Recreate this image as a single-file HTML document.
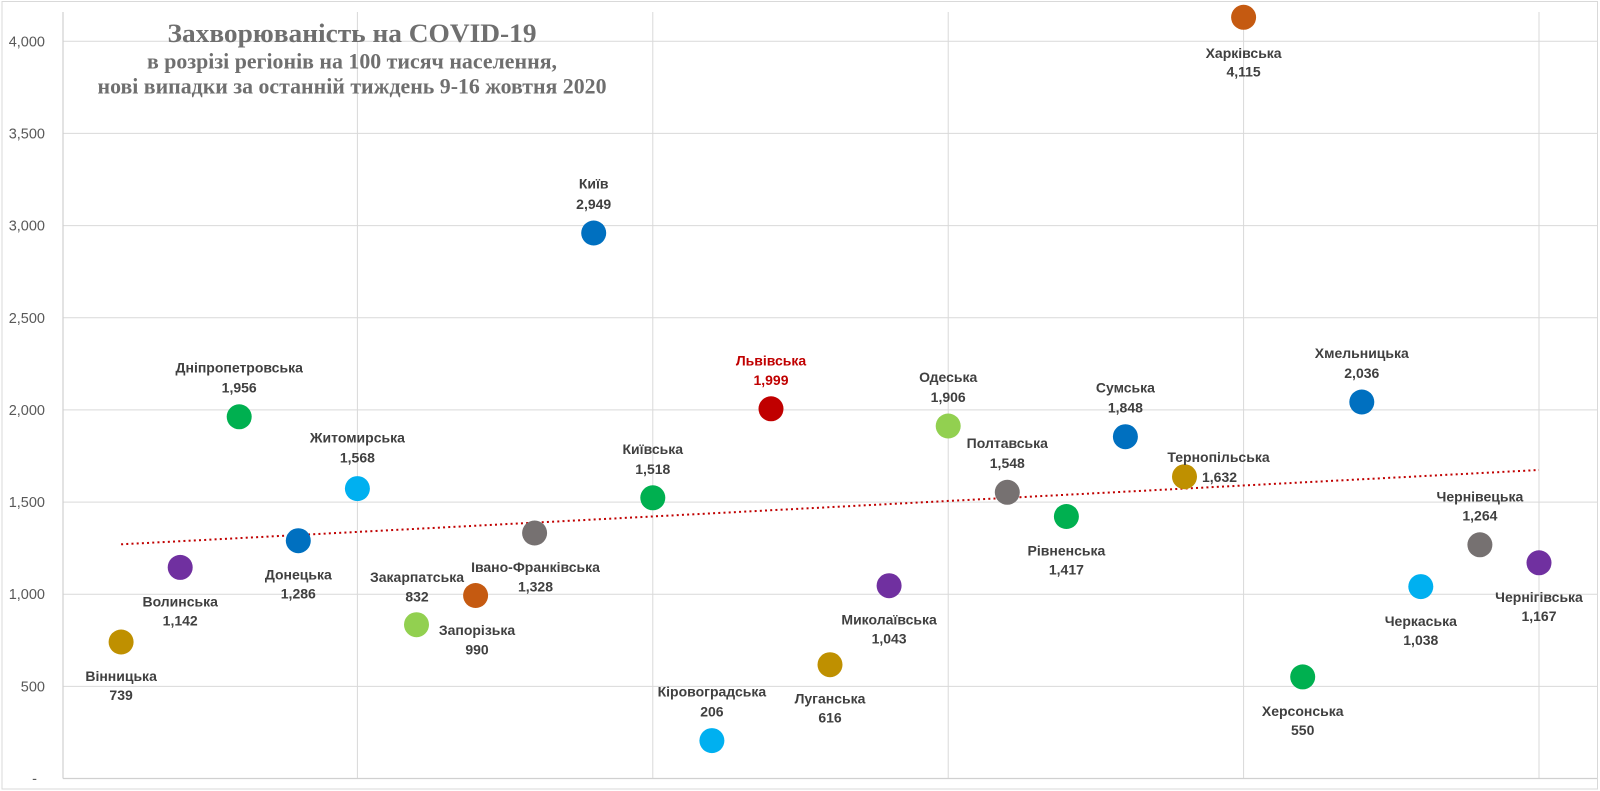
<!DOCTYPE html>
<html>
<head>
<meta charset="utf-8">
<style>
  html, body { margin: 0; padding: 0; background: #ffffff; }
  body { width: 1600px; height: 791px; overflow: hidden; }
  svg { display: block; }
  .yl { font-family: "Liberation Sans", "DejaVu Sans", sans-serif; font-size: 14.5px; fill: #595959; }
  .lb { font-family: "Liberation Sans", "DejaVu Sans", sans-serif; font-size: 14px; font-weight: bold; fill: #404040; }
  .red { fill: #C00000; }
  .tt { font-family: "Liberation Serif", "DejaVu Serif", serif; font-weight: bold; fill: #6f6f6f; }
</style>
</head>
<body>
<svg width="1600" height="791" viewBox="0 0 1600 791" xmlns="http://www.w3.org/2000/svg">
  <rect x="0" y="0" width="1600" height="791" fill="#ffffff"/>
  <!-- outer border -->
  <rect x="2" y="1.5" width="1595.5" height="787.5" fill="none" stroke="#d9d9d9" stroke-width="1"/>

  <!-- horizontal gridlines -->
  <g stroke="#d9d9d9" stroke-width="1">
    <line x1="63" y1="41.3" x2="1597" y2="41.3"/>
    <line x1="63" y1="133.4" x2="1597" y2="133.4"/>
    <line x1="63" y1="225.6" x2="1597" y2="225.6"/>
    <line x1="63" y1="317.8" x2="1597" y2="317.8"/>
    <line x1="63" y1="409.9" x2="1597" y2="409.9"/>
    <line x1="63" y1="502.1" x2="1597" y2="502.1"/>
    <line x1="63" y1="594.2" x2="1597" y2="594.2"/>
    <line x1="63" y1="686.4" x2="1597" y2="686.4"/>
    <!-- vertical gridlines -->
    <line x1="357.4" y1="12" x2="357.4" y2="778.5"/>
    <line x1="652.8" y1="12" x2="652.8" y2="778.5"/>
    <line x1="948.2" y1="12" x2="948.2" y2="778.5"/>
    <line x1="1243.6" y1="12" x2="1243.6" y2="778.5"/>
    <line x1="1539" y1="12" x2="1539" y2="778.5"/>
  </g>
  <!-- axes -->
  <g stroke="#d0d0d0" stroke-width="1.2">
    <line x1="63" y1="12" x2="63" y2="778.5"/>
    <line x1="63" y1="778.5" x2="1597" y2="778.5"/>
  </g>

  <!-- y-axis labels -->
  <g class="yl" text-anchor="end">
    <text x="45" y="46.3">4,000</text>
    <text x="45" y="138.4">3,500</text>
    <text x="45" y="230.6">3,000</text>
    <text x="45" y="322.8">2,500</text>
    <text x="45" y="414.9">2,000</text>
    <text x="45" y="507.1">1,500</text>
    <text x="45" y="599.2">1,000</text>
    <text x="45" y="691.4">500</text>
    <text x="37" y="783.5">-</text>
  </g>

  <!-- title -->
  <text class="tt" x="352" y="42" font-size="26" text-anchor="middle" textLength="369" lengthAdjust="spacingAndGlyphs">Захворюваність на COVID-19</text>
  <text class="tt" x="352" y="68.3" font-size="22" text-anchor="middle" textLength="410" lengthAdjust="spacingAndGlyphs">в розрізі регіонів на 100 тисяч населення,</text>
  <text class="tt" x="352" y="93.3" font-size="22" text-anchor="middle" textLength="509" lengthAdjust="spacingAndGlyphs">нові випадки за останній тиждень 9-16 жовтня 2020</text>

  <!-- trendline -->
  <line x1="121.1" y1="544.3" x2="1539" y2="470" stroke="#C00000" stroke-width="2" stroke-dasharray="2 3.2"/>

  <!-- points -->
  <g>
    <circle cx="121.1" cy="642.0" r="12.5" fill="#BF9000"/>
    <circle cx="180.2" cy="567.4" r="12.5" fill="#7030A0"/>
    <circle cx="239.2" cy="416.8" r="12.5" fill="#00B050"/>
    <circle cx="298.3" cy="540.7" r="12.5" fill="#0070C0"/>
    <circle cx="357.4" cy="488.6" r="12.5" fill="#00B0F0"/>
    <circle cx="416.5" cy="624.7" r="12.5" fill="#92D050"/>
    <circle cx="475.6" cy="595.5" r="12.5" fill="#C55A11"/>
    <circle cx="534.6" cy="533.0" r="12.5" fill="#767171"/>
    <circle cx="593.7" cy="233.0" r="12.5" fill="#0070C0"/>
    <circle cx="652.8" cy="497.8" r="12.5" fill="#00B050"/>
    <circle cx="711.9" cy="740.6" r="12.5" fill="#00B0F0"/>
    <circle cx="771.0" cy="408.8" r="12.5" fill="#C00000"/>
    <circle cx="830.0" cy="664.7" r="12.5" fill="#BF9000"/>
    <circle cx="889.1" cy="585.7" r="12.5" fill="#7030A0"/>
    <circle cx="948.2" cy="426.0" r="12.5" fill="#92D050"/>
    <circle cx="1007.3" cy="492.3" r="12.5" fill="#767171"/>
    <circle cx="1066.4" cy="516.5" r="12.5" fill="#00B050"/>
    <circle cx="1125.4" cy="436.7" r="12.5" fill="#0070C0"/>
    <circle cx="1184.5" cy="476.7" r="12.5" fill="#BF9000"/>
    <circle cx="1243.6" cy="17.3" r="12.5" fill="#C55A11"/>
    <circle cx="1302.7" cy="676.9" r="12.5" fill="#00B050"/>
    <circle cx="1361.8" cy="402.0" r="12.5" fill="#0070C0"/>
    <circle cx="1420.8" cy="586.6" r="12.5" fill="#00B0F0"/>
    <circle cx="1479.9" cy="544.8" r="12.5" fill="#767171"/>
    <circle cx="1539.0" cy="562.8" r="12.5" fill="#7030A0"/>
  </g>

  <!-- data labels -->
  <g class="lb" text-anchor="middle">
    <text x="121.1" y="681">Вінницька</text><text x="121.1" y="700">739</text>
    <text x="180.2" y="606.4">Волинська</text><text x="180.2" y="625.4">1,142</text>
    <text x="239.2" y="372.5">Дніпропетровська</text><text x="239.2" y="392.5">1,956</text>
    <text x="298.3" y="579.7">Донецька</text><text x="298.3" y="598.7">1,286</text>
    <text x="357.4" y="442.5">Житомирська</text><text x="357.4" y="462.5">1,568</text>
    <text x="417" y="582">Закарпатська</text><text x="417" y="601.5">832</text>
    <text x="477" y="634.8">Запорізька</text><text x="477" y="654.5">990</text>
    <text x="535.5" y="572.2">Івано-Франківська</text><text x="535.5" y="591.5">1,328</text>
    <text x="593.7" y="188.3">Київ</text><text x="593.7" y="209">2,949</text>
    <text x="652.8" y="453.8">Київська</text><text x="652.8" y="473.8">1,518</text>
    <text x="711.9" y="696.6">Кіровоградська</text><text x="711.9" y="716.6">206</text>
    <text class="lb red" x="771.0" y="365.3">Львівська</text><text class="lb red" x="771.0" y="385">1,999</text>
    <text x="830.0" y="703.7">Луганська</text><text x="830.0" y="722.7">616</text>
    <text x="889.1" y="624.7">Миколаївська</text><text x="889.1" y="643.7">1,043</text>
    <text x="948.2" y="382">Одеська</text><text x="948.2" y="402">1,906</text>
    <text x="1007.3" y="448">Полтавська</text><text x="1007.3" y="468">1,548</text>
    <text x="1066.4" y="555.5">Рівненська</text><text x="1066.4" y="574.5">1,417</text>
    <text x="1125.4" y="392.7">Сумська</text><text x="1125.4" y="412.7">1,848</text>
    <text x="1218.5" y="462">Тернопільська</text><text x="1202" y="482" text-anchor="start">1,632</text>
    <text x="1243.6" y="58">Харківська</text><text x="1243.6" y="76.5">4,115</text>
    <text x="1302.7" y="715.9">Херсонська</text><text x="1302.7" y="734.9">550</text>
    <text x="1361.8" y="358">Хмельницька</text><text x="1361.8" y="378">2,036</text>
    <text x="1420.8" y="625.8">Черкаська</text><text x="1420.8" y="645">1,038</text>
    <text x="1479.9" y="501.5">Чернівецька</text><text x="1479.9" y="520.5">1,264</text>
    <text x="1539.0" y="601.8">Чернігівська</text><text x="1539.0" y="621">1,167</text>
  </g>
</svg>
</body>
</html>
